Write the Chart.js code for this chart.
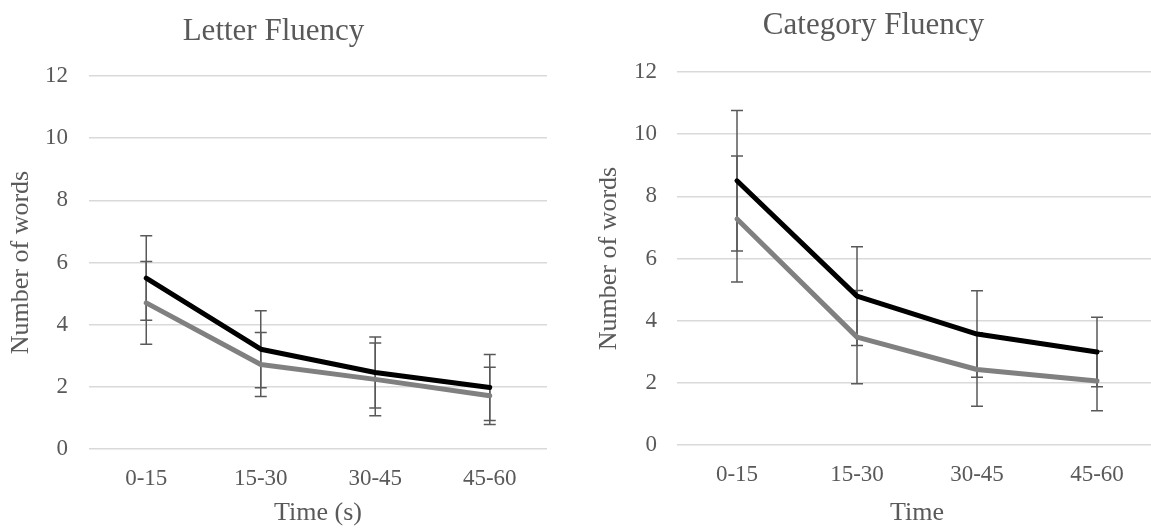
<!DOCTYPE html>
<html>
<head>
<meta charset="utf-8">
<script src="https://cdn.jsdelivr.net/npm/chart.js@4/dist/chart.umd.min.js"></script>
<style>
    html, body { margin: 0; padding: 0; background: #fff; overflow: hidden; }
    body { width: 1151px; height: 531px; position: relative; }
    canvas { position: absolute; top: 0; }
    #chart-letter   { left: 0; }
    #chart-category { left: 590px; }
</style>
</head>
<body>
<canvas id="chart-letter" width="550" height="531"></canvas>
<canvas id="chart-category" width="568" height="531"></canvas>
<script>
// ========== Datos ==========

const categorias = ['0-15', '15-30', '30-45', '45-60'];
const yTicks     = [0, 2, 4, 6, 8, 10, 12];

// Letter Fluency
const letraNegro     = [5.50, 3.21, 2.46, 1.98];
const letraNegroErr  = [1.36, 1.24, 1.14, 1.06];
const letraGris      = [4.70, 2.72, 2.24, 1.71];
const letraGrisErr   = [1.33, 1.03, 1.17, 0.92];

// Category Fluency
const catNegro       = [8.50, 4.79, 3.57, 2.99];
const catNegroErr    = [2.26, 1.59, 1.39, 1.12];
const catGris        = [7.27, 3.47, 2.43, 2.06];
const catGrisErr     = [2.03, 1.50, 1.18, 0.96];

// ========== Estilo ==========

const TEXTO = '#595959';
const FUENTE = 'Liberation Serif, Times New Roman, serif';

// Barras de error dibujadas antes de las líneas
const errorBarsPlugin = {
    id: 'errorBars',
    beforeDatasetsDraw(chart) {
        const { ctx, scales: { y } } = chart;
        ctx.save();
        ctx.strokeStyle = '#595959';
        ctx.lineWidth = 1.5;
        chart.data.datasets.forEach((ds, i) => {
            const meta = chart.getDatasetMeta(i);
            meta.data.forEach((pt, j) => {
                const v = ds.data[j], e = ds.errores[j];
                const yTop = y.getPixelForValue(v + e);
                const yBot = y.getPixelForValue(v - e);
                ctx.beginPath();
                ctx.moveTo(pt.x, yTop); ctx.lineTo(pt.x, yBot);
                ctx.moveTo(pt.x - 6, yTop); ctx.lineTo(pt.x + 6, yTop);
                ctx.moveTo(pt.x - 6, yBot); ctx.lineTo(pt.x + 6, yBot);
                ctx.stroke();
            });
        });
        ctx.restore();
    }
};

function crearGrafica(id, titulo, ejeX, series, cfg) {
    new Chart(document.getElementById(id), {
        type: 'line',
        data: {
            labels: categorias,
            datasets: series.map(s => ({
                label: s.label,
                data: s.data,
                errores: s.err,
                borderColor: s.color,
                borderWidth: 5,
                pointRadius: 0,
                tension: 0,
                borderCapStyle: 'round',
                borderJoinStyle: 'round',
                fill: false,
            }))
        },
        options: {
            responsive: false,
            animation: false,
            devicePixelRatio: 1,
            layout: { padding: { right: cfg.padRight } },
            plugins: {
                legend: { display: false },
                tooltip: { enabled: false },
                title: {
                    display: true,
                    text: titulo,
                    color: TEXTO,
                    font: { family: FUENTE, size: 31, weight: 'normal' },
                    padding: { top: cfg.titleTop, bottom: cfg.titleBottom },
                },
            },
            scales: {
                x: {
                    type: 'category',
                    offset: true,
                    grid: { display: false },
                    border: { display: false },
                    ticks: {
                        color: TEXTO,
                        font: { family: FUENTE, size: 23 },
                        padding: cfg.xTickPad,
                        maxRotation: 0,
                    },
                    title: {
                        display: true,
                        text: ejeX,
                        color: TEXTO,
                        font: { family: FUENTE, size: 26 },
                        padding: { top: 0, bottom: cfg.xTitlePad },
                    },
                    afterFit: scale => { scale.height = cfg.xHeight; },
                },
                y: {
                    min: 0,
                    max: 12,
                    afterBuildTicks: scale => { scale.ticks = yTicks.map(v => ({ value: v })); },
                    grid: { color: '#d9d9d9', lineWidth: 1.5, drawTicks: false },
                    border: { display: false },
                    ticks: {
                        color: TEXTO,
                        font: { family: FUENTE, size: 23 },
                        padding: cfg.yTickPad,
                    },
                    title: {
                        display: true,
                        text: 'Number of words',
                        color: TEXTO,
                        font: { family: FUENTE, size: 26 },
                        padding: { top: cfg.yTitlePad, bottom: 0 },
                    },
                    afterFit: scale => { scale.width = cfg.yWidth; },
                },
            },
        },
        plugins: [errorBarsPlugin],
    });
}

// ========== Init ==========

crearGrafica('chart-letter', 'Letter Fluency', 'Time (s)', [
    { label: 'Grupo 1', data: letraNegro, err: letraNegroErr, color: '#000000' },
    { label: 'Grupo 2', data: letraGris,  err: letraGrisErr,  color: '#808080' },
], { padRight: 3, titleTop: 13.4, titleBottom: 25.4, xHeight: 82, xTickPad: 8, xTitlePad: 2, yWidth: 89, yTickPad: 21, yTitlePad: 6 });

crearGrafica('chart-category', 'Category Fluency', 'Time', [
    { label: 'Grupo 1', data: catNegro, err: catNegroErr, color: '#000000' },
    { label: 'Grupo 2', data: catGris,  err: catGrisErr,  color: '#808080' },
], { padRight: 1, titleTop: 7.4, titleBottom: 27.4, xHeight: 86, xTickPad: 8, xTitlePad: 2, yWidth: 87, yTickPad: 20, yTitlePad: 4 });
</script>
</body>
</html>
